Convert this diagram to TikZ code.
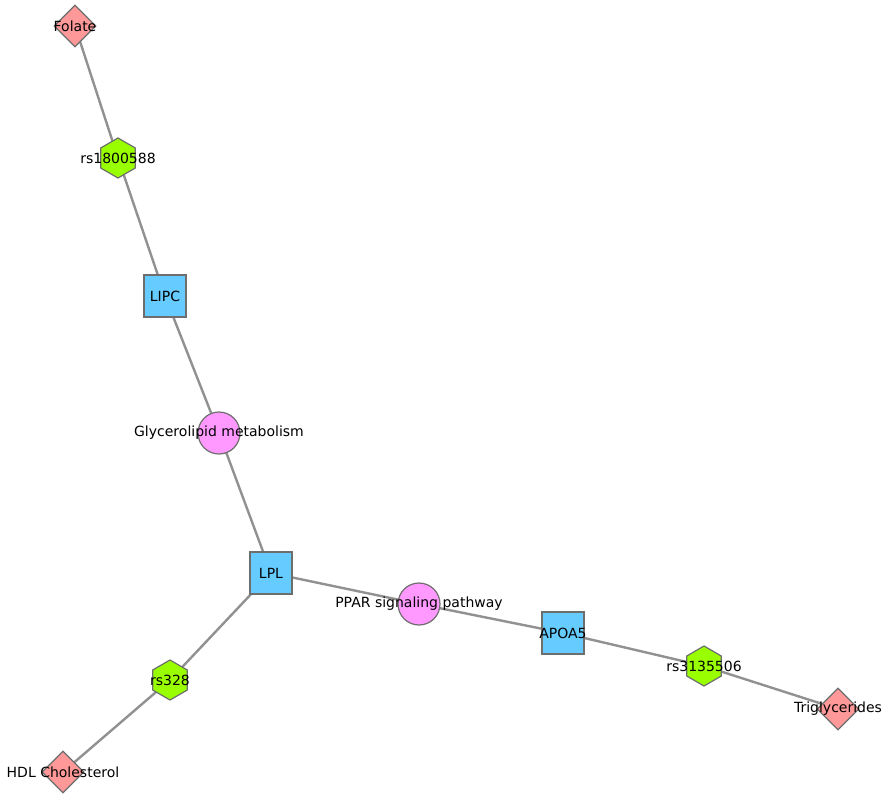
\documentclass[tikz,border=0pt]{standalone}
\usepackage{fontspec}
\setmainfont{DejaVu Sans}
\usetikzlibrary{shapes.geometric,backgrounds}
\definecolor{edge}{HTML}{919191}
\definecolor{bord}{HTML}{6E6E6E}
\definecolor{hex}{HTML}{99FF00}
\definecolor{sq}{HTML}{66CCFF}
\definecolor{circ}{HTML}{FF99FF}
\definecolor{dia}{HTML}{FF9999}
\begin{document}
\begin{tikzpicture}[x=1pt,y=-1pt,
  base/.style={draw=bord,line width=1.2pt,inner sep=0pt,label={[font=\fontsize{14}{16}\selectfont,text=black]center:#1}},
  hexn/.style={base=#1,regular polygon,regular polygon sides=6,shape border rotate=30,fill=hex,minimum size=40pt},
  sqn/.style={base=#1,rectangle,fill=sq,minimum size=42pt},
  cirn/.style={base=#1,circle,fill=circ,minimum size=42pt},
  dian/.style={base=#1,diamond,fill=dia,minimum size=42pt},
  e/.style={draw=edge,line width=2.4pt}]
\useasboundingbox (0,0) rectangle (890,800);
\node[dian=Folate] (fol) at (75,26) {};
\node[hexn=rs1800588] (rs1) at (118,158) {};
\node[sqn=LIPC] (lipc) at (165,296) {};
\node[cirn=Glycerolipid metabolism] (gly) at (219,433) {};
\node[sqn=LPL] (lpl) at (271,573) {};
\node[cirn=PPAR signaling pathway] (ppar) at (419,604) {};
\node[sqn=APOA5] (apoa) at (563,633) {};
\node[hexn=rs3135506] (rs3) at (704,666) {};
\node[dian=Triglycerides] (tri) at (838,709) {};
\node[hexn=rs328] (rs328) at (170,680) {};
\node[dian=HDL Cholesterol] (hdl) at (63,772) {};
\begin{scope}[on background layer]
\draw[e] (fol.center)--(rs1.center) (rs1.center)--(lipc.center) (lipc.center)--(gly.center)
 (gly.center)--(lpl.center) (lpl.center)--(ppar.center) (ppar.center)--(apoa.center)
 (apoa.center)--(rs3.center) (rs3.center)--(tri.center) (lpl.center)--(rs328.center)
 (rs328.center)--(hdl.center);
\end{scope}
\end{tikzpicture}
\end{document}
